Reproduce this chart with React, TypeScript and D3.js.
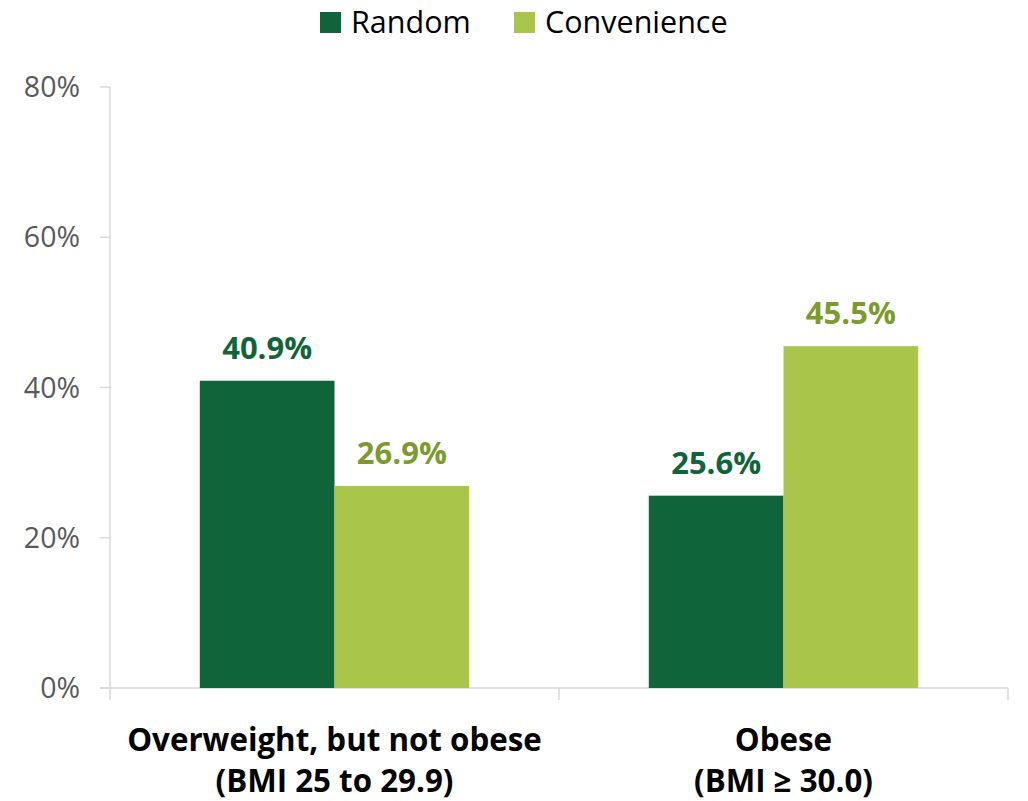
import React from "react";
import * as d3 from "d3";

const categories = ["Overweight, but not obese|(BMI 25 to 29.9)", "Obese|(BMI ≥ 30.0)"];
const seriesNames = ["Random", "Convenience"];
const randomValues = [40.9, 25.6];
const convenienceValues = [26.9, 45.5];
const yTicks = [0, 20, 40, 60, 80];

const barColors = ["#10643A", "#A9C64A"];
const labelColors = ["#10643A", "#7C9A2E"];
const FONT = "'Open Sans', Lato, sans-serif";

export default function App() {
  const W = 1028, H = 801;
  const left = 110, right = 1008, top = 87, bottom = 688;
  const y = d3.scaleLinear().domain([0, 80]).range([bottom, top]);
  const x = d3.scaleBand().domain(categories).range([left, right]).padding(0);
  const bw = x.bandwidth();
  const groupW = bw * 0.6;
  const xs = d3.scaleBand().domain(seriesNames).range([(bw - groupW) / 2, (bw + groupW) / 2]).padding(0);
  const values = [randomValues, convenienceValues];
  const axisColor = "#D9D9D9";

  return (
    <svg width={W} height={H} style={{ position: "absolute", left: 0, top: 0 }} fontFamily={FONT}>
      <rect width={W} height={H} fill="#fff" />
      {/* legend */}
      {seriesNames.map((s, i) => {
        const lx = i === 0 ? 320 : 514;
        return (
          <g key={s}>
            <rect x={lx} y={12} width={21} height={21} fill={barColors[i]} />
            <text x={lx + 31} y={33} fontSize={30.5} fill="#000">{s}</text>
          </g>
        );
      })}
      {/* y axis */}
      <line x1={left} x2={left} y1={top} y2={bottom} stroke={axisColor} strokeWidth={1.5} />
      {yTicks.map((t) => (
        <g key={t}>
          <line x1={left - 10} x2={left} y1={y(t)} y2={y(t)} stroke={axisColor} strokeWidth={1.5} />
          <text x={80} y={y(t) + 10} textAnchor="end" fontSize={28.5} fill="#595959">{t}%</text>
        </g>
      ))}
      {/* x axis */}
      <line x1={left - 10} x2={right} y1={bottom} y2={bottom} stroke={axisColor} strokeWidth={1.5} />
      {[left, ...categories.map((c) => (x(c) as number) + bw)].map((px, i) => (
        <line key={i} x1={px} x2={px} y1={bottom} y2={bottom + 12} stroke={axisColor} strokeWidth={1.5} />
      ))}
      {/* bars */}
      {categories.map((c, ci) => (
        <g key={c} transform={`translate(${x(c)},0)`}>
          {seriesNames.map((s, si) => {
            const v = values[si][ci];
            const bx = xs(s) as number;
            return (
              <g key={s}>
                <rect x={bx} y={y(v)} width={xs.bandwidth()} height={bottom - y(v)} fill={barColors[si]} />
                <text x={bx + xs.bandwidth() / 2} y={y(v) - 22} textAnchor="middle" fontSize={31} fontWeight="bold" fill={labelColors[si]}>
                  {v.toFixed(1)}%
                </text>
              </g>
            );
          })}
          {c.split("|").map((line, li) => (
            <text key={li} x={bw / 2} y={751 + li * 41} textAnchor="middle" fontSize={31.3} fontWeight="bold" fill="#000">
              {line}
            </text>
          ))}
        </g>
      ))}
    </svg>
  );
}
